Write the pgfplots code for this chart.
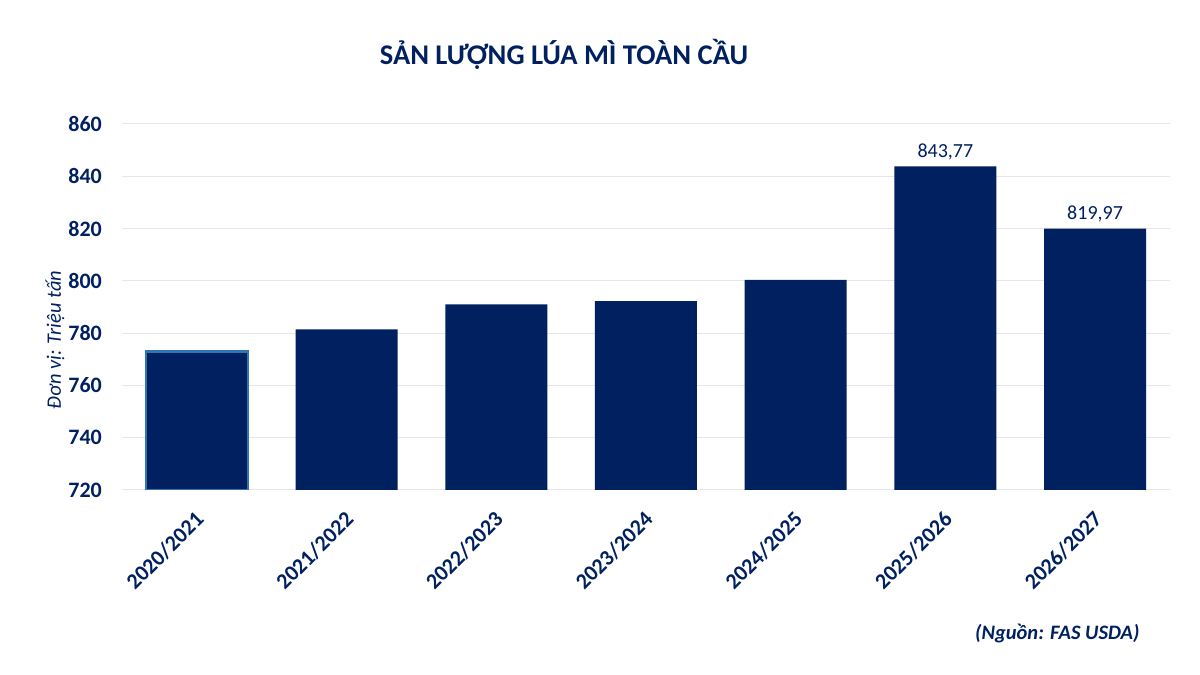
\documentclass[border=0pt]{standalone}
\usepackage{fontspec}
\setmainfont{Carlito}
\usepackage{pgfplots}
\pgfplotsset{compat=1.18}

\definecolor{navy}{HTML}{002060}
\definecolor{edgeblue}{HTML}{2E75B6}
\definecolor{gridgray}{HTML}{E6E6E6}

\begin{document}
\begin{tikzpicture}[x=1pt,y=1pt]
\useasboundingbox (0,0) rectangle (1200,675);

\begin{axis}[
    at={(122pt,185pt)}, anchor=south west,
    scale only axis, width=1048pt, height=366pt,
    ybar, bar shift=0pt, bar width=102pt,
    xmin=-0.5, xmax=6.5,
    ymin=720, ymax=860,
    ytick={720,740,...,860},
    xtick={0,...,6},
    xticklabels={2020/2021,2021/2022,2022/2023,2023/2024,2024/2025,2025/2026,2026/2027},
    axis line style={draw=none},
    major tick style={draw=none},
    ymajorgrids=true,
    grid style={gridgray, line width=1pt},
    /pgf/number format/assume math mode=true,
    yticklabel style={font=\fontsize{22}{24}\selectfont\bfseries, text=navy, inner sep=0pt, xshift=-20pt},
    xticklabel style={font=\fontsize{22}{24}\selectfont\bfseries, text=navy, rotate=45, anchor=north east, inner sep=0pt, xshift=-13pt, yshift=-9pt},
    nodes near coords style={font=\fontsize{20}{24}\selectfont, text=navy, inner sep=0pt, yshift=6pt},
]

% 2020/2021, outlined
\addplot[fill=navy, draw=edgeblue, line width=2.5pt] coordinates {(0,773.0)};

% 2021/2022 .. 2024/2025
\addplot[fill=navy, draw=none] coordinates {
    (1,781.4)
    (2,791.0)
    (3,792.2)
    (4,800.4)
};

% 2025/2026, 2026/2027 with values
\addplot[fill=navy, draw=none,
    nodes near coords,
    /pgf/number format/.cd, use comma, fixed, fixed zerofill, precision=2, 1000 sep={}]
    coordinates {
    (5,843.77)
    (6,819.97)
};
\end{axis}

\node[anchor=base, text=navy, font=\fontsize{28.5}{32}\selectfont\bfseries] at (564,610) {SẢN LƯỢNG LÚA MÌ TOÀN CẦU};
\node[rotate=90, text=navy, font=\fontsize{20.5}{24}\selectfont\itshape] at (55,335) {Đơn vị: Triệu tấn};
\node[anchor=base east, text=navy, font=\fontsize{20.5}{24}\selectfont\bfseries\itshape] at (1143,35) {(Nguồn: FAS USDA)};
\end{tikzpicture}
\end{document}
